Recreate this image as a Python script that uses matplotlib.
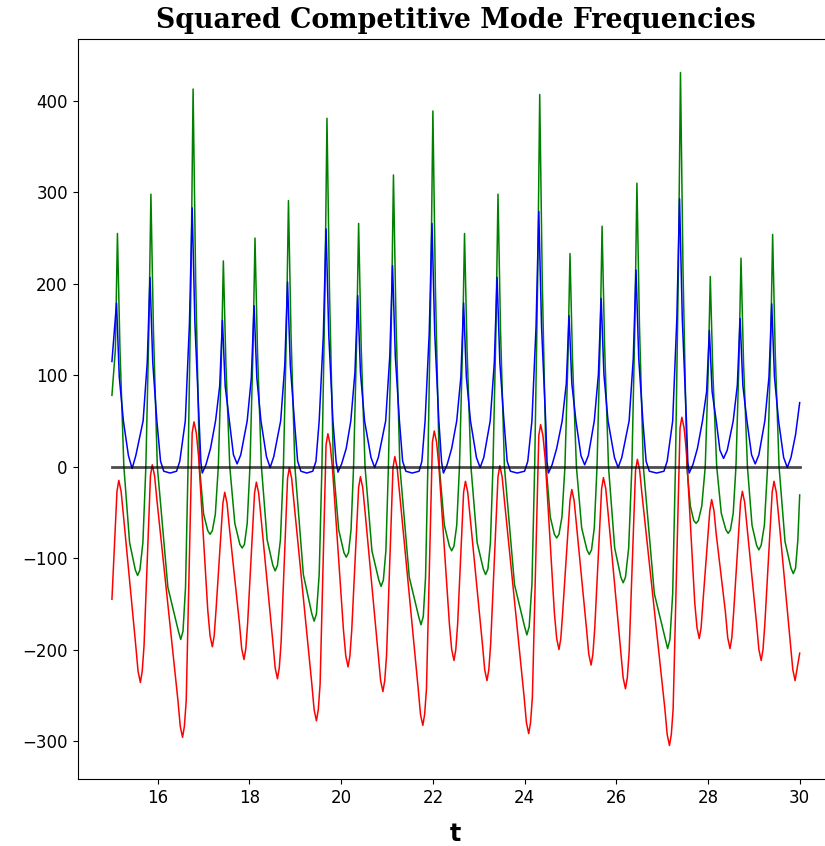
import matplotlib
matplotlib.use("Agg")
import matplotlib.pyplot as plt
import numpy as np

# (t, value) points along each squared frequency: peaks, troughs and shoulders
green_pts = [
    (15.00, 78), (15.075, 128),
    (15.12, 255), (15.175, 128), (15.26, 0), (15.385, -83), (15.51, -113), (15.56, -119), (15.61, -113), (15.675, -83), (15.74, 0), (15.805, 149),
    (15.85, 298), (15.905, 149), (15.99, 0), (16.22, -132), (16.45, -180), (16.50, -189), (16.55, -180), (16.605, -132), (16.66, 0), (16.725, 207),
    (16.77, 413), (16.825, 207), (16.91, 0), (17.00, -52), (17.09, -70), (17.14, -74), (17.19, -70), (17.255, -52), (17.32, 0), (17.385, 113),
    (17.43, 225), (17.485, 113), (17.57, 0), (17.68, -62), (17.79, -85), (17.84, -89), (17.89, -85), (17.95, -62), (18.01, 0), (18.075, 125),
    (18.12, 250), (18.175, 125), (18.26, 0), (18.385, -80), (18.51, -108), (18.56, -114), (18.61, -108), (18.675, -80), (18.74, 0), (18.805, 146),
    (18.85, 291), (18.905, 146), (18.99, 0), (19.175, -118), (19.36, -161), (19.41, -169), (19.46, -161), (19.52, -118), (19.58, 0), (19.645, 191),
    (19.69, 381), (19.745, 191), (19.83, 0), (19.945, -69), (20.06, -94), (20.11, -99), (20.16, -94), (20.215, -69), (20.27, 0), (20.335, 133),
    (20.38, 266), (20.435, 133), (20.52, 0), (20.67, -92), (20.82, -124), (20.87, -131), (20.92, -124), (20.975, -92), (21.03, 0), (21.095, 160),
    (21.14, 319), (21.195, 160), (21.28, 0), (21.485, -121), (21.69, -164), (21.74, -173), (21.79, -164), (21.84, -121), (21.89, 0), (21.955, 195),
    (22.00, 389), (22.055, 195), (22.14, 0), (22.25, -64), (22.36, -87), (22.41, -92), (22.46, -87), (22.52, -64), (22.58, 0), (22.645, 128),
    (22.69, 255), (22.745, 128), (22.83, 0), (22.965, -83), (23.10, -112), (23.15, -118), (23.20, -112), (23.255, -83), (23.31, 0), (23.375, 149),
    (23.42, 298), (23.475, 149), (23.56, 0), (23.78, -129), (24.00, -175), (24.05, -184), (24.10, -175), (24.16, -129), (24.22, 0), (24.285, 204),
    (24.33, 407), (24.385, 204), (24.47, 0), (24.56, -55), (24.65, -74), (24.70, -78), (24.75, -74), (24.815, -55), (24.88, 0), (24.945, 117),
    (24.99, 233), (25.045, 117), (25.13, 0), (25.245, -67), (25.36, -91), (25.41, -96), (25.46, -91), (25.52, -67), (25.58, 0), (25.645, 132),
    (25.69, 263), (25.745, 132), (25.83, 0), (25.965, -89), (26.10, -121), (26.15, -127), (26.20, -121), (26.27, -89), (26.34, 0), (26.405, 155),
    (26.45, 310), (26.505, 155), (26.59, 0), (26.83, -139), (27.07, -189), (27.12, -199), (27.17, -189), (27.23, -139), (27.29, 0), (27.355, 216),
    (27.40, 431), (27.455, 216), (27.54, 0), (27.615, -43), (27.69, -59), (27.74, -62), (27.79, -59), (27.865, -43), (27.94, 0), (28.005, 104),
    (28.05, 208), (28.105, 104), (28.19, 0), (28.29, -51), (28.39, -69), (28.44, -73), (28.49, -69), (28.55, -51), (28.61, 0), (28.675, 114),
    (28.72, 228), (28.775, 114), (28.86, 0), (28.96, -64), (29.06, -86), (29.11, -91), (29.16, -86), (29.23, -64), (29.30, 0), (29.365, 127),
    (29.41, 254), (29.465, 127), (29.55, 0), (29.68, -82), (29.81, -111), (29.86, -117), (29.91, -111), (29.96, -80), (30.00, -31),
]

blue_pts = [
    (15.00, 115),
    (15.10, 179), (15.16, 98), (15.25, 50), (15.36, 12), (15.44, -2), (15.52, 12), (15.68, 50), (15.77, 114),
    (15.83, 207), (15.89, 114), (15.98, 50), (16.06, 6), (16.13, -5), (16.27, -7), (16.41, -5), (16.48, 6), (16.60, 50), (16.69, 156),
    (16.75, 283), (16.81, 156), (16.90, 50), (16.94, 5), (16.97, -7), (17.05, 2), (17.15, 20), (17.26, 50), (17.35, 88),
    (17.41, 160), (17.47, 88), (17.56, 50), (17.65, 13), (17.73, 3), (17.81, 13), (17.95, 50), (18.04, 97),
    (18.10, 176), (18.16, 97), (18.25, 50), (18.37, 11), (18.45, -1), (18.53, 11), (18.68, 50), (18.77, 111),
    (18.83, 202), (18.89, 111), (18.98, 50), (19.05, 6), (19.12, -5), (19.25, -7), (19.38, -5), (19.45, 6), (19.52, 50), (19.61, 143),
    (19.67, 260), (19.73, 143), (19.82, 50), (19.89, 5), (19.93, -6), (20.01, 3), (20.11, 20), (20.21, 50), (20.30, 103),
    (20.36, 187), (20.42, 103), (20.51, 50), (20.65, 10), (20.73, -1), (20.81, 10), (20.97, 50), (21.06, 121),
    (21.12, 220), (21.18, 121), (21.27, 50), (21.34, 6), (21.41, -5), (21.55, -7), (21.70, -5), (21.76, 6), (21.83, 50), (21.92, 146),
    (21.98, 266), (22.04, 146), (22.13, 50), (22.19, 5), (22.23, -7), (22.31, 2), (22.41, 20), (22.52, 50), (22.61, 98),
    (22.67, 179), (22.73, 98), (22.82, 50), (22.95, 10), (23.03, -1), (23.11, 10), (23.25, 50), (23.34, 114),
    (23.40, 207), (23.46, 114), (23.55, 50), (23.62, 6), (23.69, -5), (23.84, -7), (24.00, -5), (24.07, 6), (24.16, 50), (24.25, 153),
    (24.31, 279), (24.37, 153), (24.46, 50), (24.49, 5), (24.52, -7), (24.60, 2), (24.70, 20), (24.82, 50), (24.91, 91),
    (24.97, 165), (25.03, 91), (25.12, 50), (25.23, 12), (25.31, 2), (25.39, 12), (25.52, 50), (25.61, 101),
    (25.67, 184), (25.73, 101), (25.82, 50), (25.96, 10), (26.04, -1), (26.12, 10), (26.28, 50), (26.37, 118),
    (26.43, 215), (26.49, 118), (26.58, 50), (26.65, 6), (26.72, -5), (26.88, -7), (27.04, -5), (27.11, 6), (27.23, 50), (27.32, 161),
    (27.38, 293), (27.44, 161), (27.53, 50), (27.56, 5), (27.59, -7), (27.67, 2), (27.77, 20), (27.88, 50), (27.97, 82),
    (28.03, 149), (28.09, 82), (28.18, 50), (28.26, 18), (28.34, 9), (28.42, 18), (28.55, 50), (28.64, 89),
    (28.70, 162), (28.76, 89), (28.85, 50), (28.95, 13), (29.03, 3), (29.11, 13), (29.24, 50), (29.33, 98),
    (29.39, 178), (29.45, 98), (29.54, 50), (29.65, 10), (29.73, -1), (29.81, 10), (29.91, 35), (30.00, 70),
]

red_pts = [
    (15.00, -145),
    (15.11, -27), (15.15, -15), (15.20, -27), (15.25, -53), (15.52, -196), (15.57, -224), (15.62, -236), (15.66, -224), (15.70, -196),
    (15.84, -10), (15.88, 2), (15.93, -10), (15.98, -36), (16.44, -256), (16.49, -284), (16.54, -296), (16.58, -284), (16.62, -256),
    (16.75, 37), (16.79, 49), (16.84, 37), (16.89, 11), (17.09, -157), (17.14, -185), (17.19, -197), (17.23, -185), (17.27, -157),
    (17.42, -40), (17.46, -28), (17.51, -40), (17.56, -66), (17.78, -171), (17.83, -199), (17.88, -211), (17.92, -199), (17.96, -171),
    (18.11, -29), (18.15, -17), (18.20, -29), (18.25, -55), (18.51, -192), (18.56, -220), (18.61, -232), (18.65, -220), (18.69, -192),
    (18.83, -13), (18.87, -1), (18.92, -13), (18.97, -39), (19.36, -238), (19.41, -266), (19.46, -278), (19.50, -266), (19.54, -238),
    (19.67, 24), (19.71, 36), (19.76, 24), (19.81, -2), (20.05, -179), (20.10, -207), (20.15, -219), (20.19, -207), (20.23, -179),
    (20.38, -23), (20.42, -11), (20.47, -23), (20.52, -49), (20.81, -206), (20.86, -234), (20.91, -246), (20.95, -234), (20.99, -206),
    (21.13, -1), (21.17, 11), (21.22, -1), (21.27, -27), (21.68, -243), (21.73, -271), (21.78, -283), (21.82, -271), (21.86, -243),
    (21.99, 27), (22.03, 39), (22.08, 27), (22.13, 1), (22.36, -172), (22.41, -200), (22.46, -212), (22.50, -200), (22.54, -172),
    (22.67, -28), (22.71, -16), (22.76, -28), (22.81, -54), (23.08, -194), (23.13, -222), (23.18, -234), (23.22, -222), (23.26, -194),
    (23.42, -11), (23.46, 1), (23.51, -11), (23.56, -37), (23.99, -252), (24.04, -280), (24.09, -292), (24.13, -280), (24.17, -252),
    (24.31, 34), (24.35, 46), (24.40, 34), (24.45, 8), (24.65, -160), (24.70, -188), (24.75, -200), (24.79, -188), (24.83, -160),
    (24.99, -37), (25.03, -25), (25.08, -37), (25.13, -63), (25.35, -177), (25.40, -205), (25.45, -217), (25.49, -205), (25.53, -177),
    (25.68, -24), (25.72, -12), (25.77, -24), (25.82, -50), (26.10, -203), (26.15, -231), (26.20, -243), (26.24, -231), (26.28, -203),
    (26.42, -4), (26.46, 8), (26.51, -4), (26.56, -30), (27.06, -265), (27.11, -293), (27.16, -305), (27.20, -293), (27.24, -265),
    (27.39, 42), (27.43, 54), (27.48, 42), (27.53, 16), (27.71, -148), (27.76, -176), (27.81, -188), (27.85, -176), (27.89, -148),
    (28.04, -48), (28.08, -36), (28.13, -48), (28.18, -74), (28.38, -159), (28.43, -187), (28.48, -199), (28.52, -187), (28.56, -159),
    (28.71, -39), (28.75, -27), (28.80, -39), (28.85, -65), (29.06, -172), (29.11, -200), (29.16, -212), (29.20, -200), (29.24, -172),
    (29.40, -28), (29.44, -16), (29.49, -28), (29.54, -54), (29.80, -194), (29.85, -222), (29.90, -234), (29.94, -222), (30.00, -204),
]

t_span = [15.0, 30.0]

green_t, green_v = np.array(green_pts).T
blue_t, blue_v = np.array(blue_pts).T
red_t, red_v = np.array(red_pts).T

fig = plt.figure(figsize=(8.25, 8.46), dpi=100)
ax = fig.add_axes([0.094, 0.079, 0.917, 0.875])

ax.plot(green_t, green_v, color='green', lw=1.1)
ax.plot(red_t, red_v, color='red', lw=1.1)
ax.plot(blue_t, blue_v, color='blue', lw=1.1)
ax.plot(t_span, np.zeros(len(t_span)), color='k', lw=2, alpha=0.7)

ax.set_title('Squared Competitive Mode Frequencies', family='DejaVu Serif',
             fontweight='bold', fontsize=19.3, pad=8)
ax.set_xlabel('t', fontweight='bold', fontsize=17, labelpad=11)
ax.tick_params(labelsize=12)

fig.savefig('out.png', dpi=100)
